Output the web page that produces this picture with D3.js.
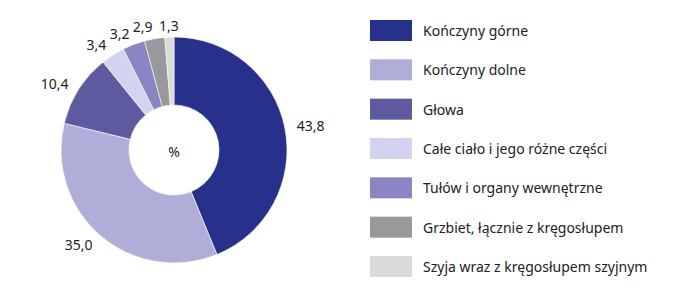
<!DOCTYPE html>
<html>
<head>
<meta charset="utf-8">
<script src="https://cdn.jsdelivr.net/npm/d3@7"></script>
<style>
  body { margin: 0; background: #fff; }
  text { font-family: "Noto Sans", sans-serif; fill: #222; }
</style>
</head>
<body>
<svg class="pie"></svg>
<script>
var svgWidth = 688, svgHeight = 297;

var categories = ['Kończyny górne', 'Kończyny dolne', 'Głowa', 'Całe ciało i jego różne części',
  'Tułów i organy wewnętrzne', 'Grzbiet, łącznie z kręgosłupem', 'Szyja wraz z kręgosłupem szyjnym'];
var values = [43.8, 35.0, 10.4, 3.4, 3.2, 2.9, 1.3];
var colors = ['#27318b', '#b0aed8', '#5e5a9f', '#d3d3ef', '#8a86c3', '#999999', '#d9dbdb'];

var data = categories.map(function (c, i) { return { name: c, value: values[i] }; });

var svg = d3.select('svg.pie').attr('width', svgWidth).attr('height', svgHeight);

var color = d3.scaleOrdinal().domain(categories).range(colors);

var cx = 174, cy = 150, outerR = 113, innerR = 45, labelR = 125;

var pie = d3.pie().sort(null).value(function (d) { return d.value; });
var slices = pie(data);
var arc = d3.arc().innerRadius(innerR).outerRadius(outerR);

var g = svg.append('g').attr('transform', 'translate(' + cx + ',' + cy + ')');

g.selectAll('path.slice')
  .data(slices)
  .enter()
  .append('path')
  .attr('class', 'slice')
  .attr('d', arc)
  .attr('fill', function (d) { return color(d.data.name); })
  .attr('stroke', '#fff')
  .attr('stroke-width', 0.6);

g.selectAll('text.val')
  .data(slices)
  .enter()
  .append('text')
  .attr('class', 'val')
  .each(function (d) {
    var a = (d.startAngle + d.endAngle) / 2;
    var x = labelR * Math.sin(a), y = -labelR * Math.cos(a);
    var s = Math.sin(a);
    var anchor = Math.abs(s) < 0.1 ? 'middle' : (s > 0 ? 'start' : 'end');
    d3.select(this)
      .attr('x', x)
      .attr('y', y)
      .attr('text-anchor', anchor)
      .attr('dominant-baseline', 'central');
  })
  .style('font-size', '14px')
  .text(function (d) { return d3.format('.1f')(d.data.value).replace('.', ','); });

g.append('text')
  .attr('text-anchor', 'middle')
  .attr('dominant-baseline', 'central')
  .attr('y', 1)
  .style('font-size', '14px')
  .text('%');

// legend
var ly = d3.scalePoint().domain(categories).range([30.5, 266.5]);

var legend = svg.append('g').attr('class', 'legend')
  .selectAll('g')
  .data(categories)
  .enter()
  .append('g')
  .attr('transform', function (d) { return 'translate(370,' + ly(d) + ')'; });

legend.append('rect')
  .attr('x', 0)
  .attr('y', -10.5)
  .attr('width', 42)
  .attr('height', 21)
  .attr('fill', function (d) { return color(d); });

legend.append('text')
  .attr('x', 53)
  .attr('y', 0)
  .attr('dominant-baseline', 'central')
  .style('font-size', '14px')
  .text(function (d) { return d; });
</script>
</body>
</html>
